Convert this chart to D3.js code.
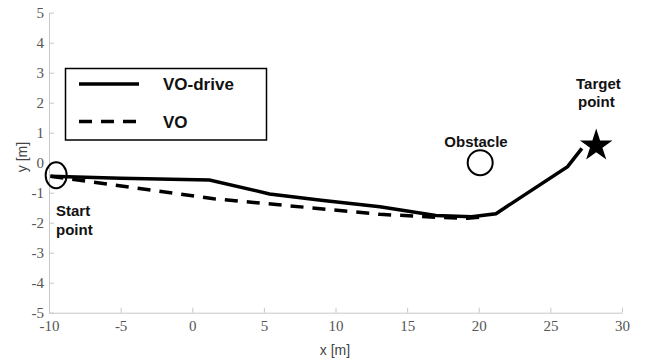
<!DOCTYPE html>
<html>
<head>
<meta charset="utf-8">
<script src="https://cdn.jsdelivr.net/npm/d3@7"></script>
<style>
  body { margin: 0; background: #fff; }
  .tick text { font-family: 'Liberation Serif', serif; font-size: 15px; fill: #555; }
  .lbl { font-family: 'Liberation Sans', Arial, sans-serif; font-weight: bold; font-size: 15px; fill: #111; }
</style>
</head>
<body>
<div id="root"></div>
<script>
// trajectories
var voDriveX = [-9.9, -5.0, 1.2, 5.4, 9.0, 13.1, 17.0, 19.5, 21.2, 26.2, 27.2];
var voDriveY = [-0.45, -0.52, -0.58, -1.04, -1.25, -1.47, -1.76, -1.80, -1.70, -0.13, 0.48];

var voX = [-9.9, 1.5, 13.1, 17.1, 19.2, 20.6];
var voY = [-0.45, -1.20, -1.72, -1.82, -1.85, -1.80];

var startPt = [-9.5, -0.42];
var obstacle = [20.1, 0.0];
var target = [28.2, 0.6];

var xTicks = [-10, -5, 0, 5, 10, 15, 20, 25, 30];
var yTicks = [-5, -4, -3, -2, -1, 0, 1, 2, 3, 4, 5];

var w = 647,
    h = 358;

var svg = d3.select('#root')
  .append('svg')
    .attr('width', w)
    .attr('height', h);

var x = d3.scaleLinear().domain([-10, 30]).range([49, 622]);
var y = d3.scaleLinear().domain([-5, 5]).range([312.7, 12.7]);

function plain(d) { return String(d); }

svg.append('g')
  .attr('transform', 'translate(0,' + y(-5) + ')')
  .call(d3.axisBottom(x).tickValues(xTicks).tickFormat(plain)
    .tickSizeInner(-5).tickSizeOuter(0).tickPadding(8));

svg.append('g')
  .attr('transform', 'translate(' + x(-10) + ',0)')
  .call(d3.axisLeft(y).tickValues(yTicks).tickFormat(plain)
    .tickSizeInner(-5).tickSizeOuter(0).tickPadding(5));

svg.selectAll('.domain').attr('stroke', '#c8c8c8');
svg.selectAll('.tick line').attr('stroke', '#c8c8c8');

svg.append('text')
  .attr('x', 335)
  .attr('y', 355)
  .attr('text-anchor', 'middle')
  .style('font-family', 'Liberation Sans, sans-serif')
  .style('font-size', '14px')
  .style('fill', '#444')
  .text('x [m]');

svg.append('text')
  .attr('transform', 'translate(27,157) rotate(-90)')
  .attr('text-anchor', 'middle')
  .style('font-family', 'Liberation Sans, sans-serif')
  .style('font-size', '14px')
  .style('fill', '#444')
  .text('y [m]');

var line = d3.line()
  .x(function (d) { return x(d[0]); })
  .y(function (d) { return y(d[1]); });

var voData = voX.map(function (v, i) { return [v, voY[i]]; });
var driveData = voDriveX.map(function (v, i) { return [v, voDriveY[i]]; });

svg.append('path')
  .attr('d', line(voData))
  .attr('fill', 'none')
  .attr('stroke', '#000')
  .attr('stroke-width', 3.5)
  .attr('stroke-dasharray', '13,9');

svg.append('path')
  .attr('d', line(driveData))
  .attr('fill', 'none')
  .attr('stroke', '#000')
  .attr('stroke-width', 3.5);

// start marker
svg.append('ellipse')
  .attr('cx', x(startPt[0]))
  .attr('cy', y(startPt[1]))
  .attr('rx', 10.5)
  .attr('ry', 13)
  .attr('fill', 'none')
  .attr('stroke', '#000')
  .attr('stroke-width', 2);

// obstacle
svg.append('circle')
  .attr('cx', x(obstacle[0]))
  .attr('cy', y(obstacle[1]))
  .attr('r', 12.5)
  .attr('fill', 'none')
  .attr('stroke', '#000')
  .attr('stroke-width', 2);

// target star
svg.append('path')
  .attr('d', d3.symbol().type(d3.symbolStar).size(330)())
  .attr('transform', 'translate(' + x(target[0]) + ',' + (y(target[1]) + 1) + ')')
  .attr('fill', '#000');

svg.append('text').attr('class', 'lbl').attr('x', 56).attr('y', 216).text('Start');
svg.append('text').attr('class', 'lbl').attr('x', 56).attr('y', 235).text('point');
svg.append('text').attr('class', 'lbl').attr('x', 476).attr('y', 147).attr('text-anchor', 'middle').text('Obstacle');
svg.append('text').attr('class', 'lbl').attr('x', 576).attr('y', 89).text('Target');
svg.append('text').attr('class', 'lbl').attr('x', 578).attr('y', 107).text('point');

// legend
var legend = svg.append('g');
legend.append('rect')
  .attr('x', 65.5)
  .attr('y', 68.5)
  .attr('width', 201)
  .attr('height', 71.5)
  .attr('fill', '#fff')
  .attr('stroke', '#000')
  .attr('stroke-width', 1.5);

var legendItems = [
  { name: 'VO-drive', dash: null },
  { name: 'VO', dash: '13,9' }
];

legendItems.forEach(function (d, i) {
  var ly = 84 + i * 37.5;
  legend.append('line')
    .attr('x1', 79).attr('x2', 139)
    .attr('y1', ly).attr('y2', ly)
    .attr('stroke', '#000')
    .attr('stroke-width', 3.5)
    .attr('stroke-dasharray', d.dash);
  legend.append('text')
    .attr('class', 'lbl')
    .attr('x', 163)
    .attr('y', ly + 6)
    .style('font-size', '17px')
    .text(d.name);
});
</script>
</body>
</html>
